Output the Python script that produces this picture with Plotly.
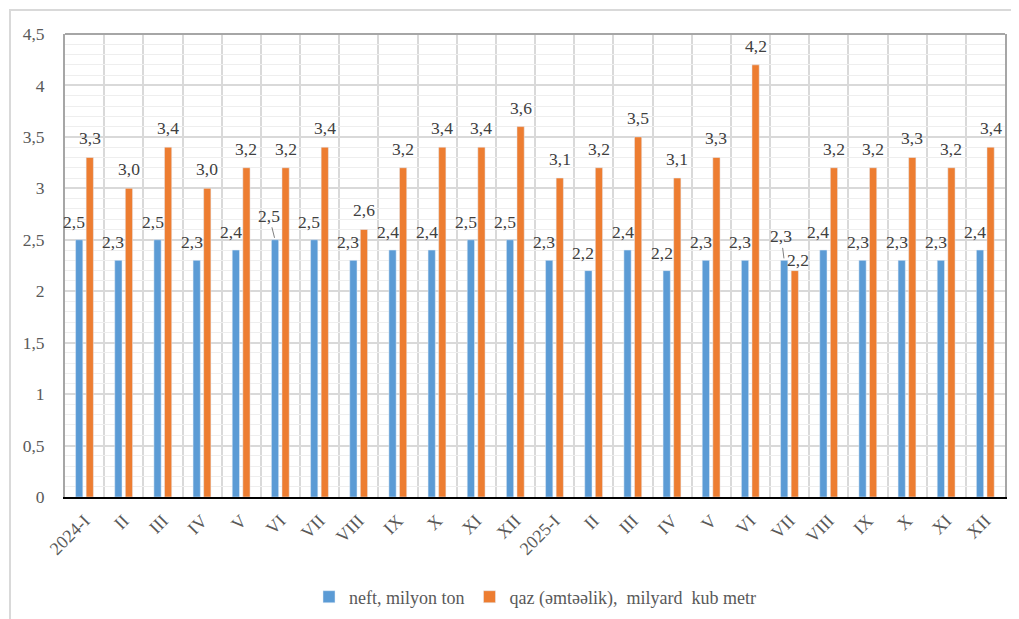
import plotly.graph_objects as go

# ---- data ----
months = ["2024-I", "II", "III", "IV", "V", "VI", "VII", "VIII", "IX", "X", "XI", "XII",
          "2025-I", "II", "III", "IV", "V", "VI", "VII", "VIII", "IX", "X", "XI", "XII"]
neft = [2.5, 2.3, 2.5, 2.3, 2.4, 2.5, 2.5, 2.3, 2.4, 2.4, 2.5, 2.5,
        2.3, 2.2, 2.4, 2.2, 2.3, 2.3, 2.3, 2.4, 2.3, 2.3, 2.3, 2.4]
qaz = [3.3, 3.0, 3.4, 3.0, 3.2, 3.2, 3.4, 2.6, 3.2, 3.4, 3.4, 3.6,
       3.1, 3.2, 3.5, 3.1, 3.3, 4.2, 2.2, 3.2, 3.2, 3.3, 3.2, 3.4]
neft_name = "neft, milyon ton"
qaz_name = "qaz (əmtəəlik),\u00a0 milyard\u00a0 kub metr"

BLUE = "#5b9bd5"
ORANGE = "#ed7d31"
FONT = "Liberation Serif, Times New Roman, serif"

xs = list(range(len(months)))
W = 0.185
BLUE_OFF = -0.23
ORANGE_OFF = 0.04

# page body offset (browser default margin) compensation
ML, MT = 57, 26
PW, PH = 940, 463

def fmt(v):
    return f"{v:.1f}".replace(".", ",")

fig = go.Figure()
fig.add_trace(go.Bar(x=xs, y=neft, name=neft_name, marker_color=BLUE,
                     width=W, offset=BLUE_OFF, hoverinfo="skip"))
fig.add_trace(go.Bar(x=xs, y=qaz, name=qaz_name, marker_color=ORANGE,
                     width=W, offset=ORANGE_OFF, hoverinfo="skip"))

annotations = []
label_font = dict(family=FONT, size=17.5, color="#404040")
leader_idx_blue = {5: (-6, -24), 18: (-3, -24)}
for i in xs:
    bx = i + BLUE_OFF + W / 2
    ox = i + ORANGE_OFF + W / 2
    if i in leader_idx_blue:
        dx, dy = leader_idx_blue[i]
        annotations.append(dict(x=bx, y=neft[i], text=fmt(neft[i]), showarrow=True,
                                arrowhead=0, arrowwidth=1, arrowcolor="#808080",
                                ax=dx, ay=dy, standoff=2, font=label_font))
    else:
        annotations.append(dict(x=bx, y=neft[i], text=fmt(neft[i]), showarrow=False,
                                xshift=-5, yshift=18, font=label_font))
    if i == 18:
        annotations.append(dict(x=ox, y=qaz[i], text=fmt(qaz[i]), showarrow=False,
                                xshift=3, yshift=11, font=label_font))
    else:
        annotations.append(dict(x=ox, y=qaz[i], text=fmt(qaz[i]), showarrow=False,
                                xshift=0, yshift=19, font=label_font))

fig.update_layout(
    width=1011, height=611,
    margin=dict(l=ML, r=1011 - ML - PW, t=MT, b=611 - MT - PH, autoexpand=False),
    paper_bgcolor="white", plot_bgcolor="white",
    separators=", ",
    barmode="overlay",
    showlegend=True,
    font=dict(family=FONT),
    legend=dict(orientation="h", x=0.5, xanchor="center", y=-0.216, yanchor="middle",
                font=dict(family=FONT, size=18, color="#595959"),
                itemwidth=30, traceorder="normal"),
    annotations=annotations,
    shapes=[
        dict(type="line", xref="paper", yref="paper", x0=0, x1=1, y0=1, y1=1,
             line=dict(color="#a6a6a6", width=2)),
        dict(type="rect", xref="paper", yref="paper",
             x0=(2 - ML) / PW, x1=(1030 - ML) / PW,
             y0=(MT + PH - 640) / PH, y1=(MT + PH - 2) / PH,
             line=dict(color="#d9d9d9", width=2), layer="below"),
    ],
)

fig.update_xaxes(
    range=[-0.5, len(months) - 0.5],
    tickmode="array", tickvals=xs, ticktext=months,
    tickangle=-45, automargin=False,
    tickfont=dict(family=FONT, size=18, color="#595959"),
    showgrid=False,
    showline=True, linecolor="black", linewidth=2,
    ticks="", ticklabelstandoff=4,
    minor=dict(tickmode="array", tickvals=[i + 0.5 for i in xs[:-1]],
               showgrid=True, gridcolor="#d9d9d9", gridwidth=1.5, ticks=""),
    zeroline=False,
)
fig.update_yaxes(
    range=[0, 4.5], dtick=0.5, automargin=False,
    tickfont=dict(family=FONT, size=17.5, color="#595959"),
    showgrid=True, gridcolor="#d9d9d9", gridwidth=1.5,
    showline=True, linecolor="#a6a6a6", linewidth=2, mirror=True,
    ticks="", ticklabelstandoff=15,
    minor=dict(dtick=0.1, showgrid=True, gridcolor="#eeeeee", gridwidth=1, ticks=""),
    zeroline=False,
)

fig.write_html("out.html")
